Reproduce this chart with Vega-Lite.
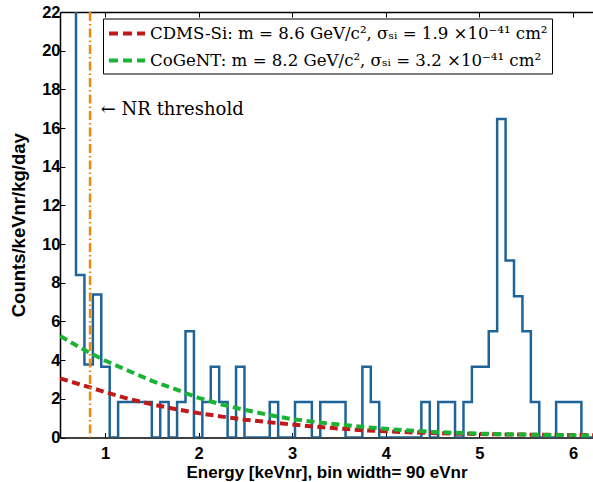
{
  "$schema": "https://vega.github.io/schema/vega-lite/v6.json",
  "width": 533,
  "height": 425.5,
  "autosize": "none",
  "padding": {"left": 60, "top": 12, "right": 0, "bottom": 44.5},
  "background": "white",
  "config": {
    "view": {"stroke": null},
    "axis": {
      "grid": false,
      "domainColor": "black",
      "tickColor": "black",
      "domainWidth": 1.5,
      "tickWidth": 1,
      "labelFont": "Liberation Sans",
      "labelFontWeight": "bold",
      "labelFontSize": 16.5,
      "labelColor": "black",
      "titleFont": "Liberation Sans",
      "titleFontWeight": "bold",
      "titleFontSize": 17,
      "titleColor": "black",
      "tickSize": -5
    }
  },
  "datasets": {
    "hist": [
      {"e": 0.60, "v": 30}, {"e": 0.69, "v": 8.4}, {"e": 0.78, "v": 3.78}, {"e": 0.87, "v": 7.4},
      {"e": 0.96, "v": 3.66}, {"e": 1.05, "v": 0}, {"e": 1.14, "v": 1.83}, {"e": 1.23, "v": 1.83},
      {"e": 1.32, "v": 1.83}, {"e": 1.41, "v": 1.83}, {"e": 1.50, "v": 0}, {"e": 1.59, "v": 1.83},
      {"e": 1.68, "v": 0}, {"e": 1.77, "v": 1.83}, {"e": 1.86, "v": 5.5}, {"e": 1.95, "v": 0},
      {"e": 2.04, "v": 1.83}, {"e": 2.13, "v": 3.66}, {"e": 2.22, "v": 1.83}, {"e": 2.31, "v": 0},
      {"e": 2.40, "v": 3.66}, {"e": 2.49, "v": 0}, {"e": 2.58, "v": 0}, {"e": 2.67, "v": 0},
      {"e": 2.76, "v": 1.83}, {"e": 2.85, "v": 0}, {"e": 2.94, "v": 0}, {"e": 3.03, "v": 1.83},
      {"e": 3.12, "v": 1.83}, {"e": 3.21, "v": 0}, {"e": 3.30, "v": 1.83}, {"e": 3.39, "v": 1.83},
      {"e": 3.48, "v": 1.83}, {"e": 3.57, "v": 0}, {"e": 3.66, "v": 0}, {"e": 3.75, "v": 3.66},
      {"e": 3.84, "v": 1.83}, {"e": 3.93, "v": 0}, {"e": 4.02, "v": 0}, {"e": 4.11, "v": 0},
      {"e": 4.20, "v": 0}, {"e": 4.29, "v": 0}, {"e": 4.38, "v": 1.83}, {"e": 4.47, "v": 0},
      {"e": 4.56, "v": 1.83}, {"e": 4.65, "v": 1.83}, {"e": 4.74, "v": 0}, {"e": 4.83, "v": 1.83},
      {"e": 4.92, "v": 3.66}, {"e": 5.01, "v": 3.66}, {"e": 5.10, "v": 5.5}, {"e": 5.19, "v": 16.47},
      {"e": 5.28, "v": 9.15}, {"e": 5.37, "v": 7.3}, {"e": 5.46, "v": 5.5}, {"e": 5.55, "v": 1.83},
      {"e": 5.64, "v": 0}, {"e": 5.73, "v": 0}, {"e": 5.82, "v": 1.83}, {"e": 5.91, "v": 1.83},
      {"e": 6.00, "v": 1.83}, {"e": 6.09, "v": 0}, {"e": 6.30, "v": 0}
    ],
    "curves": [
      {"m": "CDMS", "x": 0.52, "y": 3.06}, {"m": "CDMS", "x": 0.75, "y": 2.72}, {"m": "CDMS", "x": 1.0, "y": 2.35},
      {"m": "CDMS", "x": 1.25, "y": 2.0}, {"m": "CDMS", "x": 1.5, "y": 1.72}, {"m": "CDMS", "x": 1.75, "y": 1.47},
      {"m": "CDMS", "x": 2.0, "y": 1.26}, {"m": "CDMS", "x": 2.25, "y": 1.08}, {"m": "CDMS", "x": 2.5, "y": 0.92},
      {"m": "CDMS", "x": 2.75, "y": 0.79}, {"m": "CDMS", "x": 3.0, "y": 0.67}, {"m": "CDMS", "x": 3.25, "y": 0.56},
      {"m": "CDMS", "x": 3.5, "y": 0.46}, {"m": "CDMS", "x": 3.75, "y": 0.38}, {"m": "CDMS", "x": 4.0, "y": 0.32},
      {"m": "CDMS", "x": 4.25, "y": 0.27}, {"m": "CDMS", "x": 4.5, "y": 0.23}, {"m": "CDMS", "x": 4.75, "y": 0.2},
      {"m": "CDMS", "x": 5.0, "y": 0.18}, {"m": "CDMS", "x": 5.25, "y": 0.16}, {"m": "CDMS", "x": 5.5, "y": 0.15},
      {"m": "CDMS", "x": 5.75, "y": 0.14}, {"m": "CDMS", "x": 6.0, "y": 0.13}, {"m": "CDMS", "x": 6.22, "y": 0.12},
      {"m": "CoGeNT", "x": 0.52, "y": 5.25}, {"m": "CoGeNT", "x": 0.75, "y": 4.6}, {"m": "CoGeNT", "x": 1.0, "y": 3.98},
      {"m": "CoGeNT", "x": 1.25, "y": 3.45}, {"m": "CoGeNT", "x": 1.5, "y": 2.93}, {"m": "CoGeNT", "x": 1.75, "y": 2.5},
      {"m": "CoGeNT", "x": 2.0, "y": 2.05}, {"m": "CoGeNT", "x": 2.25, "y": 1.7}, {"m": "CoGeNT", "x": 2.5, "y": 1.42},
      {"m": "CoGeNT", "x": 2.75, "y": 1.17}, {"m": "CoGeNT", "x": 3.0, "y": 0.95}, {"m": "CoGeNT", "x": 3.25, "y": 0.8},
      {"m": "CoGeNT", "x": 3.5, "y": 0.67}, {"m": "CoGeNT", "x": 3.75, "y": 0.55}, {"m": "CoGeNT", "x": 4.0, "y": 0.45},
      {"m": "CoGeNT", "x": 4.25, "y": 0.36}, {"m": "CoGeNT", "x": 4.5, "y": 0.29}, {"m": "CoGeNT", "x": 4.75, "y": 0.24},
      {"m": "CoGeNT", "x": 5.0, "y": 0.2}, {"m": "CoGeNT", "x": 5.25, "y": 0.17}, {"m": "CoGeNT", "x": 5.5, "y": 0.15},
      {"m": "CoGeNT", "x": 5.75, "y": 0.13}, {"m": "CoGeNT", "x": 6.0, "y": 0.11}, {"m": "CoGeNT", "x": 6.22, "y": 0.1}
    ],
    "threshold": [{"t": 0.84}],
    "note": [{"x": 0.955, "y": 16.93, "label": "← NR threshold"}]
  },
  "layer": [
    {
      "data": {"name": "hist"},
      "mark": {"type": "line", "interpolate": "step-after", "stroke": "#1f6499", "strokeWidth": 2.5, "clip": true},
      "encoding": {
        "x": {"field": "e", "type": "quantitative",
          "scale": {"domain": [0.519, 6.214], "nice": false, "zero": false},
          "axis": {"orient": "bottom", "values": [1, 2, 3, 4, 5, 6], "title": "Energy [keVnr], bin width= 90 eVnr", "labelPadding": 13, "titlePadding": 2}},
        "y": {"field": "v", "type": "quantitative",
          "scale": {"domain": [0, 22], "nice": false, "zero": true},
          "axis": {"values": [0, 2, 4, 6, 8, 10, 12, 14, 16, 18, 20, 22], "title": "Counts/keVnr/kg/day", "titleFontSize": 18.5, "labelPadding": 5, "titlePadding": 13}}
      }
    },
    {
      "data": {"name": "curves"},
      "mark": {"type": "line", "strokeWidth": 4, "strokeDash": [8, 4.5], "clip": true},
      "encoding": {
        "x": {"field": "x", "type": "quantitative", "axis": null},
        "y": {"field": "y", "type": "quantitative", "axis": null},
        "color": {"field": "m", "type": "nominal",
          "scale": {"domain": ["CDMS", "CoGeNT"], "range": ["#bf1a1a", "#1ab333"]},
          "legend": {
            "orient": "none", "legendX": 43, "legendY": 6.5, "title": null,
            "labelExpr": "datum.value == 'CDMS' ? 'CDMS-Si: m = 8.6 GeV/c², σₛᵢ = 1.9 ×10⁻⁴¹ cm²' : 'CoGeNT: m = 8.2 GeV/c², σₛᵢ = 3.2 ×10⁻⁴¹ cm²'",
            "symbolType": "M-2,0H2", "symbolSize": 324, "symbolStrokeWidth": 4, "symbolDash": [9, 5],
            "symbolOffset": 9,
            "labelFont": "DejaVu Serif", "labelFontSize": 16.6, "labelColor": "black", "labelOffset": 12,
            "labelLimit": 600,
            "strokeColor": "black", "fillColor": "white", "padding": 4, "rowPadding": 7, "cornerRadius": 0
          }}
      }
    },
    {
      "data": {"name": "threshold"},
      "mark": {"type": "rule", "stroke": "#ee8a0a", "strokeWidth": 2.5, "strokeDash": [9, 3, 1.5, 3]},
      "encoding": {
        "x": {"field": "t", "type": "quantitative",
          "axis": {"orient": "top", "values": [1, 2, 3, 4, 5, 6], "labels": false, "title": null}}
      }
    },
    {
      "data": {"name": "note"},
      "mark": {"type": "text", "align": "left", "baseline": "middle", "font": "DejaVu Serif", "fontSize": 18, "color": "black"},
      "encoding": {
        "x": {"field": "x", "type": "quantitative", "axis": null},
        "y": {"field": "y", "type": "quantitative", "axis": null},
        "text": {"field": "label"}
      }
    }
  ],
  "resolve": {"axis": {"x": "independent", "y": "independent"}}
}
